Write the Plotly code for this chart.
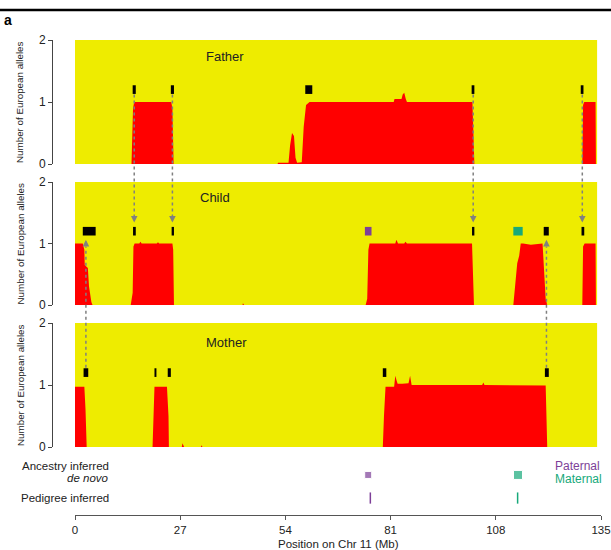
import plotly.graph_objects as go

# ---------------- data (Mb, number of European alleles) ----------------
father_pos = [0, 14.5, 14.9, 15.2, 24.7, 25.0, 25.3, 52.0, 52.1, 54.8, 55.2, 55.7, 56.2, 56.6, 57.0, 58.2,
              58.7, 59.3, 60.2, 81.8, 82.0, 83.8, 84.1, 84.5, 84.9, 85.2, 102.0, 102.3, 102.5, 130.2, 130.4,
              130.7, 133.6, 133.7]
father_val = [0, 0, 0.9, 1.0, 1.0, 0.9, 0, 0, 0.02, 0.02, 0.3, 0.5, 0.45, 0.1, 0.02, 0.03,
              0.6, 0.95, 1.0, 1.0, 1.05, 1.05, 1.12, 1.15, 1.05, 1.0, 1.0, 0.05, 0, 0, 0.95,
              1.0, 1.0, 0]

child_pos = [0, 2.0, 2.4, 2.5, 3.3, 3.6, 4.2, 4.5, 14.3, 14.8, 15.0, 15.3, 16.5, 16.8, 17.1, 21.0, 21.3,
             21.6, 25.0, 25.2, 25.4, 43.0, 43.1, 43.4, 74.6, 75.0, 75.3, 75.6, 82.2, 82.5, 82.9, 84.5,
             84.8, 85.2, 101.9, 102.2, 102.4, 112.5, 112.8, 113.5, 114.0, 114.4, 115.0, 117.0, 120.0,
             120.4, 120.8, 121.2, 130.2, 130.4, 130.8, 133.6, 133.7]
child_val = [1.0, 1.0, 0.9, 0.65, 0.6, 0.3, 0.05, 0, 0, 0.2, 0.95, 1.0, 1.0, 1.03, 1.0, 1.0, 1.02,
             1.0, 1.0, 0.9, 0, 0, 0.03, 0, 0, 0.1, 0.9, 1.0, 1.0, 1.06, 1.0, 1.0,
             1.03, 1.0, 1.0, 0.5, 0, 0, 0.2, 0.68, 0.8, 1.0, 1.0, 0.98, 1.0,
             0.6, 0.1, 0, 0, 0.95, 1.0, 1.0, 0]

mother_pos = [0, 2.4, 2.7, 3.0, 19.9, 20.1, 20.4, 23.6, 24.0, 24.1, 27.4, 27.6, 28.0, 32.3, 32.5, 32.7,
              79.0, 79.3, 79.7, 81.9, 82.2, 82.5, 82.8, 84.0, 85.6, 86.0, 86.4, 104.5, 104.8, 105.1,
              120.8, 121.0, 121.2]
mother_val = [0.97, 0.97, 0.6, 0, 0, 0.5, 0.97, 0.97, 0.5, 0, 0, 0.06, 0, 0, 0.03, 0,
              0, 0.5, 0.97, 0.97, 1.15, 1.08, 1.02, 1.02, 1.03, 1.15, 1.0, 1.0, 1.04, 1.0,
              0.99, 0.5, 0]

# breakpoint intervals (start, end in Mb)
father_breaks = [(14.8, 15.6), (24.6, 25.4), (59.1, 60.9), (101.8, 102.5), (129.8, 130.5)]
child_breaks = [(2.0, 5.3), (14.9, 15.6), (24.8, 25.4), (101.9, 102.5), (120.3, 121.6), (130.0, 130.7)]
mother_breaks = [(2.2, 3.4), (20.4, 20.9), (23.8, 24.6), (79.0, 79.9), (120.6, 121.6)]

# de novo inferred switch positions in child
paternal_denovo = (74.4, 76.1)
maternal_denovo = (112.5, 114.9)
paternal_pedigree = 75.8
maternal_pedigree = 113.6

# inheritance arrows (x Mb)
father_to_child = [15.2, 25.0, 102.2, 130.2]
mother_to_child = [2.8, 121.0]

x_ticks = [0, 27, 54, 81, 108, 135]

# ---------------- layout helpers ----------------
W, H = 611, 550
RED = '#FF0000'
YEL = '#EEEC00'
PURPLE = '#7D3F98'
GREEN = '#17A97A'
FONT = 'Liberation Sans, Arial, sans-serif'

def pf(px):  # pixel row -> paper fraction
    return 1 - px / H

doms = {'y': (pf(164), pf(40)), 'y2': (pf(305), pf(182)), 'y3': (pf(447), pf(323))}

def to_paper(axis, v):
    d0, d1 = doms[axis]
    return d0 + (v / 2.0) * (d1 - d0)

fig = go.Figure()

panels = [('y', father_pos, father_val, father_breaks, 'Father', 38.5, 1.74),
          ('y2', child_pos, child_val, child_breaks, 'Child', 36.0, 1.74),
          ('y3', mother_pos, mother_val, mother_breaks, 'Mother', 39.0, 1.68)]

shapes = []
annotations = []
for ax, pos, val, brks, name, lx, ly in panels:
    shapes.append(dict(type='rect', xref='x', yref=ax, x0=-0.2, x1=134.0, y0=0, y1=2,
                       fillcolor=YEL, line=dict(width=0), layer='below'))
    fig.add_trace(go.Scatter(x=pos, y=val, mode='lines', fill='tozeroy', fillcolor=RED,
                             line=dict(color=RED, width=0), xaxis='x', yaxis=ax,
                             showlegend=False, hoverinfo='skip'))
    for s, e in brks:
        shapes.append(dict(type='rect', xref='x', yref=ax, x0=s, x1=e, y0=1.13, y1=1.27,
                           fillcolor='black', line=dict(width=0)))
    annotations.append(dict(text=name, x=lx, y=ly, xref='x', yref=ax, showarrow=False,
                            xanchor='center', yanchor='middle',
                            font=dict(size=13, color='#222', family=FONT)))
    d0, d1 = doms[ax]
    annotations.append(dict(text='Number of European alleles', x=20 / W, y=(d0 + d1) / 2,
                            xref='paper', yref='paper', textangle=-90, showarrow=False,
                            xanchor='center', yanchor='middle',
                            font=dict(size=9.8, color='#222', family=FONT)))

for (s, e), c in [(paternal_denovo, PURPLE), (maternal_denovo, GREEN)]:
    shapes.append(dict(type='rect', xref='x', yref='y2', x0=s, x1=e, y0=1.13, y1=1.27,
                       fillcolor=c, line=dict(width=0)))

# arrows
ARC = '#808080'
for x in father_to_child:
    y_tail = to_paper('y', 1.12)
    y_tip = to_paper('y2', 1.34)
    shapes.append(dict(type='line', xref='x', yref='paper', x0=x, x1=x, y0=y_tail, y1=y_tip + 0.012,
                       line=dict(color=ARC, width=1.5, dash='dot')))
    annotations.append(dict(x=x, y=y_tip, xref='x', yref='paper', ax=0, ay=-7, text='',
                            showarrow=True, arrowhead=2, arrowsize=1.1, arrowwidth=1.2, arrowcolor=ARC))
for x in mother_to_child:
    y_tail = to_paper('y3', 1.28)
    y_tip = to_paper('y2', 1.06)
    shapes.append(dict(type='line', xref='x', yref='paper', x0=x, x1=x, y0=y_tail, y1=y_tip - 0.012,
                       line=dict(color=ARC, width=1.5, dash='dot')))
    annotations.append(dict(x=x, y=y_tip, xref='x', yref='paper', ax=0, ay=7, text='',
                            showarrow=True, arrowhead=2, arrowsize=1.1, arrowwidth=1.2, arrowcolor=ARC))

# bottom inference rows (y4: 0..1)
row_ancestry = 0.65
row_pedigree = 0.245
fig.add_trace(go.Scatter(x=[(paternal_denovo[0] + paternal_denovo[1]) / 2,
                            (maternal_denovo[0] + maternal_denovo[1]) / 2],
                         y=[row_ancestry, row_ancestry], mode='markers',
                         marker=dict(symbol='square', size=[7, 9], color=[PURPLE, GREEN]),
                         xaxis='x', yaxis='y4', showlegend=False, hoverinfo='skip'))
fig.add_trace(go.Scatter(x=[paternal_pedigree, maternal_pedigree], y=[row_pedigree, row_pedigree],
                         mode='markers',
                         marker=dict(symbol='line-ns', size=8, line=dict(width=1.5, color=[PURPLE, GREEN])),
                         xaxis='x', yaxis='y4', showlegend=False, hoverinfo='skip'))

txt = dict(size=11.5, color='#222', family=FONT)
def pa(text, xpx, ypx, xanchor='center', font=txt):
    return dict(text=text, x=xpx / W, y=pf(ypx), xref='paper', yref='paper', xanchor=xanchor,
                yanchor='middle', showarrow=False, font=font)

annotations += [
    pa('Ancestry inferred', 111, 466, 'right'),
    pa('<i>de novo</i>', 111, 478, 'right'),
    pa('Pedigree inferred', 111, 498, 'right'),
    pa('Paternal', 602, 466, 'right', dict(size=12, color=PURPLE, family=FONT)),
    pa('Maternal', 604, 479, 'right', dict(size=12, color=GREEN, family=FONT)),
    pa('Position on Chr 11 (Mb)', 338, 544, 'center', dict(size=11.5, color='#222', family=FONT)),
    pa('<b>a</b>', 8, 20, 'center', dict(size=14, color='black', family=FONT)),
]
shapes.append(dict(type='line', xref='paper', yref='paper', x0=0, x1=1, y0=pf(10), y1=pf(10),
                   line=dict(color='black', width=2.5)))

yax = dict(range=[0, 2], tickvals=[0, 1, 2], anchor='free', position=52 / W, showline=True,
           linecolor='#444', linewidth=1, ticks='outside', ticklen=4, tickcolor='#444',
           showgrid=False, zeroline=False, tickfont=dict(size=12, color='#222', family=FONT),
           fixedrange=True, automargin=False)

fig.update_layout(
    width=W, height=H, autosize=False,
    margin=dict(l=0, r=0, t=0, b=0, pad=0, autoexpand=False),
    paper_bgcolor='white', plot_bgcolor='rgba(0,0,0,0)',
    xaxis=dict(domain=[75 / W, 601 / W], range=[0, 135], tickvals=x_ticks, anchor='free',
               position=pf(515), showline=True, linecolor='#555', linewidth=1, ticks='outside',
               ticklen=4, tickcolor='#555', showgrid=False, zeroline=False, automargin=False,
               tickfont=dict(size=11.5, color='#222', family=FONT)),
    yaxis=dict(domain=list(doms['y']), **yax),
    yaxis2=dict(domain=list(doms['y2']), **yax),
    yaxis3=dict(domain=list(doms['y3']), **yax),
    yaxis4=dict(domain=[pf(512), pf(455)], range=[0, 1], visible=False, anchor='x'),
    shapes=shapes, annotations=annotations, showlegend=False,
)

fig.write_html('out.html', config={'responsive': False},
               post_script="document.body.style.margin='0';document.body.style.overflow='hidden';")
